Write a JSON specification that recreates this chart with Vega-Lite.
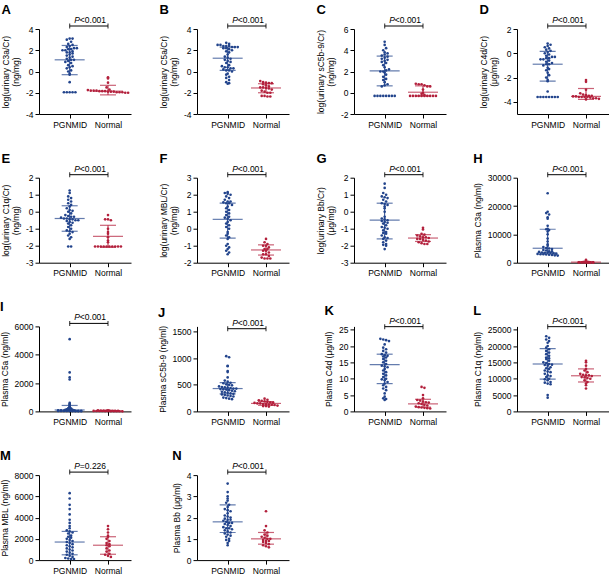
{
"$schema":"https://vega.github.io/schema/vega-lite/v6.json",
"padding":{"left":0,"top":4,"right":0,"bottom":0},
"columns":4,
"spacing":{"row":23.7,"column":27},
"datasets":{
"pts":[
{"p":"A","g":"P","v":-1.95},{"p":"A","g":"P","v":-1.95},{"p":"A","g":"P","v":-1.95},{"p":"A","g":"P","v":-1.95},{"p":"A","g":"P","v":-1.95},{"p":"A","g":"P","v":-1.0},{"p":"A","g":"P","v":-0.3},{"p":"A","g":"P","v":-0.2},{"p":"A","g":"P","v":0.0},{"p":"A","g":"P","v":0.1},{"p":"A","g":"P","v":0.3},{"p":"A","g":"P","v":0.4},{"p":"A","g":"P","v":0.5},{"p":"A","g":"P","v":0.6},{"p":"A","g":"P","v":0.8},{"p":"A","g":"P","v":0.9},{"p":"A","g":"P","v":1.0},{"p":"A","g":"P","v":1.1},{"p":"A","g":"P","v":1.1},{"p":"A","g":"P","v":1.2},{"p":"A","g":"P","v":1.3},{"p":"A","g":"P","v":1.4},{"p":"A","g":"P","v":1.5},{"p":"A","g":"P","v":1.6},{"p":"A","g":"P","v":1.7},{"p":"A","g":"P","v":1.8},{"p":"A","g":"P","v":1.8},{"p":"A","g":"P","v":1.9},{"p":"A","g":"P","v":2.0},{"p":"A","g":"P","v":2.0},{"p":"A","g":"P","v":2.1},{"p":"A","g":"P","v":2.1},{"p":"A","g":"P","v":2.2},{"p":"A","g":"P","v":2.2},{"p":"A","g":"P","v":2.3},{"p":"A","g":"P","v":2.4},{"p":"A","g":"P","v":2.5},{"p":"A","g":"P","v":2.6},{"p":"A","g":"P","v":2.8},{"p":"A","g":"P","v":3.0},{"p":"A","g":"P","v":3.1},{"p":"A","g":"P","v":3.1},
{"p":"A","g":"N","v":-0.55},{"p":"A","g":"N","v":-0.65},{"p":"A","g":"N","v":-1.05},{"p":"A","g":"N","v":-1.5},{"p":"A","g":"N","v":-1.7},{"p":"A","g":"N","v":-1.75},{"p":"A","g":"N","v":-1.8},{"p":"A","g":"N","v":-1.8},{"p":"A","g":"N","v":-1.8},{"p":"A","g":"N","v":-1.85},{"p":"A","g":"N","v":-1.85},{"p":"A","g":"N","v":-1.85},{"p":"A","g":"N","v":-1.9},{"p":"A","g":"N","v":-1.9},{"p":"A","g":"N","v":-1.9},{"p":"A","g":"N","v":-1.95},{"p":"A","g":"N","v":-1.95},{"p":"A","g":"N","v":-1.95},{"p":"A","g":"N","v":-2.0},{"p":"A","g":"N","v":-2.0},
{"p":"B","g":"P","v":2.7},{"p":"B","g":"P","v":2.6},{"p":"B","g":"P","v":2.5},{"p":"B","g":"P","v":2.5},{"p":"B","g":"P","v":2.4},{"p":"B","g":"P","v":2.4},{"p":"B","g":"P","v":2.4},{"p":"B","g":"P","v":2.3},{"p":"B","g":"P","v":2.3},{"p":"B","g":"P","v":2.3},{"p":"B","g":"P","v":2.2},{"p":"B","g":"P","v":2.2},{"p":"B","g":"P","v":2.1},{"p":"B","g":"P","v":2.0},{"p":"B","g":"P","v":1.9},{"p":"B","g":"P","v":1.8},{"p":"B","g":"P","v":1.6},{"p":"B","g":"P","v":1.4},{"p":"B","g":"P","v":1.3},{"p":"B","g":"P","v":1.2},{"p":"B","g":"P","v":1.1},{"p":"B","g":"P","v":1.0},{"p":"B","g":"P","v":0.9},{"p":"B","g":"P","v":0.8},{"p":"B","g":"P","v":0.6},{"p":"B","g":"P","v":0.5},{"p":"B","g":"P","v":0.4},{"p":"B","g":"P","v":0.4},{"p":"B","g":"P","v":0.3},{"p":"B","g":"P","v":0.3},{"p":"B","g":"P","v":0.2},{"p":"B","g":"P","v":0.1},{"p":"B","g":"P","v":0.1},{"p":"B","g":"P","v":0.0},{"p":"B","g":"P","v":-0.2},{"p":"B","g":"P","v":-0.3},{"p":"B","g":"P","v":-0.5},{"p":"B","g":"P","v":-0.6},{"p":"B","g":"P","v":-0.8},{"p":"B","g":"P","v":-1.0},{"p":"B","g":"P","v":-1.1},{"p":"B","g":"P","v":-1.15},
{"p":"B","g":"N","v":-0.9},{"p":"B","g":"N","v":-1.0},{"p":"B","g":"N","v":-1.05},{"p":"B","g":"N","v":-1.1},{"p":"B","g":"N","v":-1.1},{"p":"B","g":"N","v":-1.2},{"p":"B","g":"N","v":-1.3},{"p":"B","g":"N","v":-1.4},{"p":"B","g":"N","v":-1.5},{"p":"B","g":"N","v":-1.5},{"p":"B","g":"N","v":-1.55},{"p":"B","g":"N","v":-1.6},{"p":"B","g":"N","v":-1.7},{"p":"B","g":"N","v":-1.8},{"p":"B","g":"N","v":-1.9},{"p":"B","g":"N","v":-2.0},{"p":"B","g":"N","v":-2.0},{"p":"B","g":"N","v":-2.3},{"p":"B","g":"N","v":-2.3},{"p":"B","g":"N","v":-2.35},{"p":"B","g":"N","v":-2.35},
{"p":"C","g":"P","v":-0.3},{"p":"C","g":"P","v":-0.3},{"p":"C","g":"P","v":-0.3},{"p":"C","g":"P","v":-0.3},{"p":"C","g":"P","v":-0.3},{"p":"C","g":"P","v":-0.3},{"p":"C","g":"P","v":-0.3},{"p":"C","g":"P","v":-0.3},{"p":"C","g":"P","v":0.6},{"p":"C","g":"P","v":0.7},{"p":"C","g":"P","v":0.8},{"p":"C","g":"P","v":1.0},{"p":"C","g":"P","v":1.2},{"p":"C","g":"P","v":1.3},{"p":"C","g":"P","v":1.5},{"p":"C","g":"P","v":1.7},{"p":"C","g":"P","v":1.9},{"p":"C","g":"P","v":2.0},{"p":"C","g":"P","v":2.0},{"p":"C","g":"P","v":2.1},{"p":"C","g":"P","v":2.2},{"p":"C","g":"P","v":2.4},{"p":"C","g":"P","v":2.6},{"p":"C","g":"P","v":2.8},{"p":"C","g":"P","v":2.9},{"p":"C","g":"P","v":3.0},{"p":"C","g":"P","v":3.1},{"p":"C","g":"P","v":3.2},{"p":"C","g":"P","v":3.3},{"p":"C","g":"P","v":3.4},{"p":"C","g":"P","v":3.5},{"p":"C","g":"P","v":3.6},{"p":"C","g":"P","v":3.7},{"p":"C","g":"P","v":3.8},{"p":"C","g":"P","v":4.0},{"p":"C","g":"P","v":4.2},{"p":"C","g":"P","v":4.5},{"p":"C","g":"P","v":4.8},
{"p":"C","g":"N","v":0.85},{"p":"C","g":"N","v":0.8},{"p":"C","g":"N","v":0.8},{"p":"C","g":"N","v":0.7},{"p":"C","g":"N","v":0.6},{"p":"C","g":"N","v":0.6},{"p":"C","g":"N","v":0.3},{"p":"C","g":"N","v":0.0},{"p":"C","g":"N","v":-0.1},{"p":"C","g":"N","v":-0.2},{"p":"C","g":"N","v":-0.3},{"p":"C","g":"N","v":-0.3},{"p":"C","g":"N","v":-0.3},{"p":"C","g":"N","v":-0.3},{"p":"C","g":"N","v":-0.3},{"p":"C","g":"N","v":-0.3},{"p":"C","g":"N","v":-0.3},{"p":"C","g":"N","v":-0.3},{"p":"C","g":"N","v":-0.3},{"p":"C","g":"N","v":-0.3},
{"p":"D","g":"P","v":-3.6},{"p":"D","g":"P","v":-3.6},{"p":"D","g":"P","v":-3.6},{"p":"D","g":"P","v":-3.6},{"p":"D","g":"P","v":-3.6},{"p":"D","g":"P","v":-3.6},{"p":"D","g":"P","v":-3.6},{"p":"D","g":"P","v":-3.6},{"p":"D","g":"P","v":-3.15},{"p":"D","g":"P","v":-2.3},{"p":"D","g":"P","v":-2.2},{"p":"D","g":"P","v":-2.0},{"p":"D","g":"P","v":-1.8},{"p":"D","g":"P","v":-1.6},{"p":"D","g":"P","v":-1.4},{"p":"D","g":"P","v":-1.3},{"p":"D","g":"P","v":-1.2},{"p":"D","g":"P","v":-1.0},{"p":"D","g":"P","v":-0.9},{"p":"D","g":"P","v":-0.9},{"p":"D","g":"P","v":-0.8},{"p":"D","g":"P","v":-0.7},{"p":"D","g":"P","v":-0.6},{"p":"D","g":"P","v":-0.5},{"p":"D","g":"P","v":-0.5},{"p":"D","g":"P","v":-0.4},{"p":"D","g":"P","v":-0.4},{"p":"D","g":"P","v":-0.3},{"p":"D","g":"P","v":-0.3},{"p":"D","g":"P","v":-0.2},{"p":"D","g":"P","v":-0.1},{"p":"D","g":"P","v":0.0},{"p":"D","g":"P","v":0.1},{"p":"D","g":"P","v":0.2},{"p":"D","g":"P","v":0.3},{"p":"D","g":"P","v":0.4},{"p":"D","g":"P","v":0.5},{"p":"D","g":"P","v":0.6},{"p":"D","g":"P","v":0.7},{"p":"D","g":"P","v":0.8},
{"p":"D","g":"N","v":-2.2},{"p":"D","g":"N","v":-2.35},{"p":"D","g":"N","v":-3.0},{"p":"D","g":"N","v":-3.3},{"p":"D","g":"N","v":-3.4},{"p":"D","g":"N","v":-3.45},{"p":"D","g":"N","v":-3.5},{"p":"D","g":"N","v":-3.5},{"p":"D","g":"N","v":-3.55},{"p":"D","g":"N","v":-3.55},{"p":"D","g":"N","v":-3.6},{"p":"D","g":"N","v":-3.6},{"p":"D","g":"N","v":-3.6},{"p":"D","g":"N","v":-3.6},{"p":"D","g":"N","v":-3.65},{"p":"D","g":"N","v":-3.7},{"p":"D","g":"N","v":-3.7},{"p":"D","g":"N","v":-3.75},{"p":"D","g":"N","v":-3.8},
{"p":"E","g":"P","v":1.25},{"p":"E","g":"P","v":1.1},{"p":"E","g":"P","v":0.9},{"p":"E","g":"P","v":0.8},{"p":"E","g":"P","v":0.7},{"p":"E","g":"P","v":0.6},{"p":"E","g":"P","v":0.5},{"p":"E","g":"P","v":0.4},{"p":"E","g":"P","v":0.3},{"p":"E","g":"P","v":0.2},{"p":"E","g":"P","v":0.1},{"p":"E","g":"P","v":0.05},{"p":"E","g":"P","v":0.0},{"p":"E","g":"P","v":-0.1},{"p":"E","g":"P","v":-0.2},{"p":"E","g":"P","v":-0.25},{"p":"E","g":"P","v":-0.3},{"p":"E","g":"P","v":-0.3},{"p":"E","g":"P","v":-0.35},{"p":"E","g":"P","v":-0.4},{"p":"E","g":"P","v":-0.4},{"p":"E","g":"P","v":-0.45},{"p":"E","g":"P","v":-0.45},{"p":"E","g":"P","v":-0.5},{"p":"E","g":"P","v":-0.5},{"p":"E","g":"P","v":-0.55},{"p":"E","g":"P","v":-0.6},{"p":"E","g":"P","v":-0.65},{"p":"E","g":"P","v":-0.7},{"p":"E","g":"P","v":-0.8},{"p":"E","g":"P","v":-0.9},{"p":"E","g":"P","v":-1.0},{"p":"E","g":"P","v":-1.1},{"p":"E","g":"P","v":-1.15},{"p":"E","g":"P","v":-1.2},{"p":"E","g":"P","v":-1.3},{"p":"E","g":"P","v":-1.4},{"p":"E","g":"P","v":-1.5},{"p":"E","g":"P","v":-1.6},{"p":"E","g":"P","v":-2.05},{"p":"E","g":"P","v":-2.05},
{"p":"E","g":"N","v":-0.2},{"p":"E","g":"N","v":-0.45},{"p":"E","g":"N","v":-0.45},{"p":"E","g":"N","v":-0.5},{"p":"E","g":"N","v":-1.0},{"p":"E","g":"N","v":-1.2},{"p":"E","g":"N","v":-1.3},{"p":"E","g":"N","v":-1.5},{"p":"E","g":"N","v":-1.7},{"p":"E","g":"N","v":-1.8},{"p":"E","g":"N","v":-2.05},{"p":"E","g":"N","v":-2.05},{"p":"E","g":"N","v":-2.05},{"p":"E","g":"N","v":-2.05},{"p":"E","g":"N","v":-2.05},{"p":"E","g":"N","v":-2.05},{"p":"E","g":"N","v":-2.05},{"p":"E","g":"N","v":-2.05},{"p":"E","g":"N","v":-2.05},{"p":"E","g":"N","v":-2.05},
{"p":"F","g":"P","v":2.15},{"p":"F","g":"P","v":2.1},{"p":"F","g":"P","v":2.05},{"p":"F","g":"P","v":2.0},{"p":"F","g":"P","v":1.9},{"p":"F","g":"P","v":1.8},{"p":"F","g":"P","v":1.7},{"p":"F","g":"P","v":1.6},{"p":"F","g":"P","v":1.6},{"p":"F","g":"P","v":1.55},{"p":"F","g":"P","v":1.5},{"p":"F","g":"P","v":1.5},{"p":"F","g":"P","v":1.4},{"p":"F","g":"P","v":1.3},{"p":"F","g":"P","v":1.2},{"p":"F","g":"P","v":1.1},{"p":"F","g":"P","v":1.0},{"p":"F","g":"P","v":0.9},{"p":"F","g":"P","v":0.8},{"p":"F","g":"P","v":0.7},{"p":"F","g":"P","v":0.65},{"p":"F","g":"P","v":0.6},{"p":"F","g":"P","v":0.5},{"p":"F","g":"P","v":0.4},{"p":"F","g":"P","v":0.3},{"p":"F","g":"P","v":0.2},{"p":"F","g":"P","v":0.1},{"p":"F","g":"P","v":0.0},{"p":"F","g":"P","v":-0.2},{"p":"F","g":"P","v":-0.3},{"p":"F","g":"P","v":-0.4},{"p":"F","g":"P","v":-0.5},{"p":"F","g":"P","v":-0.6},{"p":"F","g":"P","v":-0.9},{"p":"F","g":"P","v":-1.0},{"p":"F","g":"P","v":-1.1},{"p":"F","g":"P","v":-1.2},{"p":"F","g":"P","v":-1.3},{"p":"F","g":"P","v":-1.4},{"p":"F","g":"P","v":-1.5},
{"p":"F","g":"N","v":-0.6},{"p":"F","g":"N","v":-0.8},{"p":"F","g":"N","v":-0.9},{"p":"F","g":"N","v":-1.0},{"p":"F","g":"N","v":-1.0},{"p":"F","g":"N","v":-1.1},{"p":"F","g":"N","v":-1.2},{"p":"F","g":"N","v":-1.2},{"p":"F","g":"N","v":-1.3},{"p":"F","g":"N","v":-1.3},{"p":"F","g":"N","v":-1.4},{"p":"F","g":"N","v":-1.5},{"p":"F","g":"N","v":-1.5},{"p":"F","g":"N","v":-1.6},{"p":"F","g":"N","v":-1.7},{"p":"F","g":"N","v":-1.75},{"p":"F","g":"N","v":-1.75},{"p":"F","g":"N","v":-1.75},
{"p":"G","g":"P","v":1.65},{"p":"G","g":"P","v":1.4},{"p":"G","g":"P","v":1.1},{"p":"G","g":"P","v":1.0},{"p":"G","g":"P","v":0.9},{"p":"G","g":"P","v":0.85},{"p":"G","g":"P","v":0.8},{"p":"G","g":"P","v":0.7},{"p":"G","g":"P","v":0.6},{"p":"G","g":"P","v":0.5},{"p":"G","g":"P","v":0.45},{"p":"G","g":"P","v":0.4},{"p":"G","g":"P","v":0.3},{"p":"G","g":"P","v":0.2},{"p":"G","g":"P","v":0.0},{"p":"G","g":"P","v":-0.3},{"p":"G","g":"P","v":-0.4},{"p":"G","g":"P","v":-0.45},{"p":"G","g":"P","v":-0.5},{"p":"G","g":"P","v":-0.55},{"p":"G","g":"P","v":-0.6},{"p":"G","g":"P","v":-0.65},{"p":"G","g":"P","v":-0.7},{"p":"G","g":"P","v":-0.8},{"p":"G","g":"P","v":-0.9},{"p":"G","g":"P","v":-0.95},{"p":"G","g":"P","v":-1.0},{"p":"G","g":"P","v":-1.1},{"p":"G","g":"P","v":-1.2},{"p":"G","g":"P","v":-1.25},{"p":"G","g":"P","v":-1.3},{"p":"G","g":"P","v":-1.4},{"p":"G","g":"P","v":-1.5},{"p":"G","g":"P","v":-1.55},{"p":"G","g":"P","v":-1.6},{"p":"G","g":"P","v":-1.7},{"p":"G","g":"P","v":-1.8},{"p":"G","g":"P","v":-1.9},{"p":"G","g":"P","v":-1.95},{"p":"G","g":"P","v":-2.0},{"p":"G","g":"P","v":-2.2},
{"p":"G","g":"N","v":-0.95},{"p":"G","g":"N","v":-1.05},{"p":"G","g":"N","v":-1.3},{"p":"G","g":"N","v":-1.35},{"p":"G","g":"N","v":-1.4},{"p":"G","g":"N","v":-1.45},{"p":"G","g":"N","v":-1.5},{"p":"G","g":"N","v":-1.5},{"p":"G","g":"N","v":-1.55},{"p":"G","g":"N","v":-1.6},{"p":"G","g":"N","v":-1.6},{"p":"G","g":"N","v":-1.65},{"p":"G","g":"N","v":-1.7},{"p":"G","g":"N","v":-1.75},{"p":"G","g":"N","v":-1.8},{"p":"G","g":"N","v":-1.85},{"p":"G","g":"N","v":-1.9},{"p":"G","g":"N","v":-1.9},
{"p":"H","g":"P","v":24500},{"p":"H","g":"P","v":18000},{"p":"H","g":"P","v":17500},{"p":"H","g":"P","v":17000},{"p":"H","g":"P","v":16000},{"p":"H","g":"P","v":15500},{"p":"H","g":"P","v":13000},{"p":"H","g":"P","v":12000},{"p":"H","g":"P","v":11800},{"p":"H","g":"P","v":11500},{"p":"H","g":"P","v":11000},{"p":"H","g":"P","v":10000},{"p":"H","g":"P","v":8500},{"p":"H","g":"P","v":7500},{"p":"H","g":"P","v":6500},{"p":"H","g":"P","v":6000},{"p":"H","g":"P","v":5500},{"p":"H","g":"P","v":5200},{"p":"H","g":"P","v":5000},{"p":"H","g":"P","v":4800},{"p":"H","g":"P","v":4500},{"p":"H","g":"P","v":4300},{"p":"H","g":"P","v":4000},{"p":"H","g":"P","v":4000},{"p":"H","g":"P","v":3800},{"p":"H","g":"P","v":3600},{"p":"H","g":"P","v":3500},{"p":"H","g":"P","v":3500},{"p":"H","g":"P","v":3400},{"p":"H","g":"P","v":3300},{"p":"H","g":"P","v":3200},{"p":"H","g":"P","v":3100},{"p":"H","g":"P","v":3000},{"p":"H","g":"P","v":3000},{"p":"H","g":"P","v":2900},{"p":"H","g":"P","v":2800},{"p":"H","g":"P","v":2700},{"p":"H","g":"P","v":2600},{"p":"H","g":"P","v":2500},
{"p":"H","g":"N","v":1000},{"p":"H","g":"N","v":500},{"p":"H","g":"N","v":400},{"p":"H","g":"N","v":300},{"p":"H","g":"N","v":300},{"p":"H","g":"N","v":250},{"p":"H","g":"N","v":200},{"p":"H","g":"N","v":200},{"p":"H","g":"N","v":150},{"p":"H","g":"N","v":150},{"p":"H","g":"N","v":120},{"p":"H","g":"N","v":100},{"p":"H","g":"N","v":100},{"p":"H","g":"N","v":100},{"p":"H","g":"N","v":90},{"p":"H","g":"N","v":80},{"p":"H","g":"N","v":60},{"p":"H","g":"N","v":50},{"p":"H","g":"N","v":50},{"p":"H","g":"N","v":30},
{"p":"I","g":"P","v":5100},{"p":"I","g":"P","v":2750},{"p":"I","g":"P","v":2400},{"p":"I","g":"P","v":2250},{"p":"I","g":"P","v":600},{"p":"I","g":"P","v":520},{"p":"I","g":"P","v":480},{"p":"I","g":"P","v":400},{"p":"I","g":"P","v":350},{"p":"I","g":"P","v":300},{"p":"I","g":"P","v":250},{"p":"I","g":"P","v":220},{"p":"I","g":"P","v":200},{"p":"I","g":"P","v":180},{"p":"I","g":"P","v":170},{"p":"I","g":"P","v":150},{"p":"I","g":"P","v":130},{"p":"I","g":"P","v":120},{"p":"I","g":"P","v":110},{"p":"I","g":"P","v":100},{"p":"I","g":"P","v":90},{"p":"I","g":"P","v":80},{"p":"I","g":"P","v":75},{"p":"I","g":"P","v":70},{"p":"I","g":"P","v":65},{"p":"I","g":"P","v":60},{"p":"I","g":"P","v":50},{"p":"I","g":"P","v":50},{"p":"I","g":"P","v":45},{"p":"I","g":"P","v":40},{"p":"I","g":"P","v":40},{"p":"I","g":"P","v":35},{"p":"I","g":"P","v":30},{"p":"I","g":"P","v":30},{"p":"I","g":"P","v":25},{"p":"I","g":"P","v":20},{"p":"I","g":"P","v":20},{"p":"I","g":"P","v":15},{"p":"I","g":"P","v":10},{"p":"I","g":"P","v":10},
{"p":"I","g":"N","v":80},{"p":"I","g":"N","v":70},{"p":"I","g":"N","v":60},{"p":"I","g":"N","v":60},{"p":"I","g":"N","v":50},{"p":"I","g":"N","v":50},{"p":"I","g":"N","v":45},{"p":"I","g":"N","v":40},{"p":"I","g":"N","v":40},{"p":"I","g":"N","v":35},{"p":"I","g":"N","v":30},{"p":"I","g":"N","v":30},{"p":"I","g":"N","v":25},{"p":"I","g":"N","v":20},{"p":"I","g":"N","v":20},{"p":"I","g":"N","v":15},{"p":"I","g":"N","v":15},{"p":"I","g":"N","v":10},{"p":"I","g":"N","v":10},{"p":"I","g":"N","v":5},
{"p":"J","g":"P","v":1040},{"p":"J","g":"P","v":1020},{"p":"J","g":"P","v":860},{"p":"J","g":"P","v":850},{"p":"J","g":"P","v":760},{"p":"J","g":"P","v":740},{"p":"J","g":"P","v":640},{"p":"J","g":"P","v":580},{"p":"J","g":"P","v":560},{"p":"J","g":"P","v":540},{"p":"J","g":"P","v":530},{"p":"J","g":"P","v":510},{"p":"J","g":"P","v":500},{"p":"J","g":"P","v":490},{"p":"J","g":"P","v":470},{"p":"J","g":"P","v":460},{"p":"J","g":"P","v":455},{"p":"J","g":"P","v":450},{"p":"J","g":"P","v":440},{"p":"J","g":"P","v":430},{"p":"J","g":"P","v":430},{"p":"J","g":"P","v":420},{"p":"J","g":"P","v":415},{"p":"J","g":"P","v":410},{"p":"J","g":"P","v":400},{"p":"J","g":"P","v":390},{"p":"J","g":"P","v":380},{"p":"J","g":"P","v":370},{"p":"J","g":"P","v":360},{"p":"J","g":"P","v":350},{"p":"J","g":"P","v":340},{"p":"J","g":"P","v":330},{"p":"J","g":"P","v":320},{"p":"J","g":"P","v":310},{"p":"J","g":"P","v":300},{"p":"J","g":"P","v":290},{"p":"J","g":"P","v":280},{"p":"J","g":"P","v":260},{"p":"J","g":"P","v":250},{"p":"J","g":"P","v":240},{"p":"J","g":"P","v":230},
{"p":"J","g":"N","v":240},{"p":"J","g":"N","v":220},{"p":"J","g":"N","v":210},{"p":"J","g":"N","v":200},{"p":"J","g":"N","v":190},{"p":"J","g":"N","v":180},{"p":"J","g":"N","v":170},{"p":"J","g":"N","v":165},{"p":"J","g":"N","v":160},{"p":"J","g":"N","v":150},{"p":"J","g":"N","v":150},{"p":"J","g":"N","v":140},{"p":"J","g":"N","v":135},{"p":"J","g":"N","v":130},{"p":"J","g":"N","v":125},{"p":"J","g":"N","v":120},{"p":"J","g":"N","v":110},{"p":"J","g":"N","v":100},{"p":"J","g":"N","v":100},{"p":"J","g":"N","v":90},
{"p":"K","g":"P","v":22.2},{"p":"K","g":"P","v":22},{"p":"K","g":"P","v":21.8},{"p":"K","g":"P","v":21.5},{"p":"K","g":"P","v":20.5},{"p":"K","g":"P","v":19.5},{"p":"K","g":"P","v":19},{"p":"K","g":"P","v":18.5},{"p":"K","g":"P","v":18},{"p":"K","g":"P","v":17.5},{"p":"K","g":"P","v":17.2},{"p":"K","g":"P","v":17},{"p":"K","g":"P","v":16.8},{"p":"K","g":"P","v":16.5},{"p":"K","g":"P","v":16},{"p":"K","g":"P","v":15.5},{"p":"K","g":"P","v":15},{"p":"K","g":"P","v":14.5},{"p":"K","g":"P","v":14},{"p":"K","g":"P","v":13.8},{"p":"K","g":"P","v":13.5},{"p":"K","g":"P","v":13},{"p":"K","g":"P","v":12.5},{"p":"K","g":"P","v":12},{"p":"K","g":"P","v":11.5},{"p":"K","g":"P","v":11},{"p":"K","g":"P","v":10.5},{"p":"K","g":"P","v":10},{"p":"K","g":"P","v":9.8},{"p":"K","g":"P","v":9.5},{"p":"K","g":"P","v":9},{"p":"K","g":"P","v":8.5},{"p":"K","g":"P","v":8},{"p":"K","g":"P","v":7.5},{"p":"K","g":"P","v":7},{"p":"K","g":"P","v":6.5},{"p":"K","g":"P","v":5.5},{"p":"K","g":"P","v":4.5},{"p":"K","g":"P","v":4},{"p":"K","g":"P","v":3.8},{"p":"K","g":"P","v":3.5},
{"p":"K","g":"N","v":7.5},{"p":"K","g":"N","v":7.2},{"p":"K","g":"N","v":5},{"p":"K","g":"N","v":4},{"p":"K","g":"N","v":3.5},{"p":"K","g":"N","v":3.3},{"p":"K","g":"N","v":3},{"p":"K","g":"N","v":2.8},{"p":"K","g":"N","v":2.7},{"p":"K","g":"N","v":2.5},{"p":"K","g":"N","v":2.3},{"p":"K","g":"N","v":2},{"p":"K","g":"N","v":1.8},{"p":"K","g":"N","v":1.5},{"p":"K","g":"N","v":1.3},{"p":"K","g":"N","v":1.2},{"p":"K","g":"N","v":1.1},{"p":"K","g":"N","v":1},{"p":"K","g":"N","v":0.9},
{"p":"L","g":"P","v":23000},{"p":"L","g":"P","v":22500},{"p":"L","g":"P","v":22000},{"p":"L","g":"P","v":21500},{"p":"L","g":"P","v":21000},{"p":"L","g":"P","v":20000},{"p":"L","g":"P","v":19500},{"p":"L","g":"P","v":19000},{"p":"L","g":"P","v":18500},{"p":"L","g":"P","v":18000},{"p":"L","g":"P","v":17500},{"p":"L","g":"P","v":17000},{"p":"L","g":"P","v":16500},{"p":"L","g":"P","v":16200},{"p":"L","g":"P","v":16000},{"p":"L","g":"P","v":15500},{"p":"L","g":"P","v":15000},{"p":"L","g":"P","v":14800},{"p":"L","g":"P","v":14500},{"p":"L","g":"P","v":14300},{"p":"L","g":"P","v":14200},{"p":"L","g":"P","v":14000},{"p":"L","g":"P","v":13500},{"p":"L","g":"P","v":13200},{"p":"L","g":"P","v":13000},{"p":"L","g":"P","v":12500},{"p":"L","g":"P","v":12200},{"p":"L","g":"P","v":12000},{"p":"L","g":"P","v":11500},{"p":"L","g":"P","v":11000},{"p":"L","g":"P","v":10800},{"p":"L","g":"P","v":10500},{"p":"L","g":"P","v":10000},{"p":"L","g":"P","v":9800},{"p":"L","g":"P","v":9500},{"p":"L","g":"P","v":9000},{"p":"L","g":"P","v":8800},{"p":"L","g":"P","v":8500},{"p":"L","g":"P","v":8300},{"p":"L","g":"P","v":5000},{"p":"L","g":"P","v":4200},
{"p":"L","g":"N","v":15500},{"p":"L","g":"N","v":15000},{"p":"L","g":"N","v":14000},{"p":"L","g":"N","v":13000},{"p":"L","g":"N","v":12500},{"p":"L","g":"N","v":12000},{"p":"L","g":"N","v":11500},{"p":"L","g":"N","v":11200},{"p":"L","g":"N","v":11000},{"p":"L","g":"N","v":11000},{"p":"L","g":"N","v":10800},{"p":"L","g":"N","v":10500},{"p":"L","g":"N","v":10400},{"p":"L","g":"N","v":10200},{"p":"L","g":"N","v":10000},{"p":"L","g":"N","v":9500},{"p":"L","g":"N","v":9000},{"p":"L","g":"N","v":8500},{"p":"L","g":"N","v":8000},{"p":"L","g":"N","v":7000},
{"p":"M","g":"P","v":6300},{"p":"M","g":"P","v":5800},{"p":"M","g":"P","v":5200},{"p":"M","g":"P","v":4800},{"p":"M","g":"P","v":4300},{"p":"M","g":"P","v":3800},{"p":"M","g":"P","v":3500},{"p":"M","g":"P","v":3200},{"p":"M","g":"P","v":3000},{"p":"M","g":"P","v":2800},{"p":"M","g":"P","v":2700},{"p":"M","g":"P","v":2600},{"p":"M","g":"P","v":2500},{"p":"M","g":"P","v":2300},{"p":"M","g":"P","v":2200},{"p":"M","g":"P","v":2100},{"p":"M","g":"P","v":2000},{"p":"M","g":"P","v":1900},{"p":"M","g":"P","v":1800},{"p":"M","g":"P","v":1700},{"p":"M","g":"P","v":1600},{"p":"M","g":"P","v":1500},{"p":"M","g":"P","v":1400},{"p":"M","g":"P","v":1300},{"p":"M","g":"P","v":1200},{"p":"M","g":"P","v":1100},{"p":"M","g":"P","v":1000},{"p":"M","g":"P","v":900},{"p":"M","g":"P","v":800},{"p":"M","g":"P","v":700},{"p":"M","g":"P","v":600},{"p":"M","g":"P","v":500},{"p":"M","g":"P","v":400},{"p":"M","g":"P","v":300},{"p":"M","g":"P","v":200},{"p":"M","g":"P","v":150},{"p":"M","g":"P","v":100},{"p":"M","g":"P","v":100},
{"p":"M","g":"N","v":3200},{"p":"M","g":"N","v":2900},{"p":"M","g":"N","v":2600},{"p":"M","g":"N","v":2300},{"p":"M","g":"N","v":2200},{"p":"M","g":"N","v":2000},{"p":"M","g":"N","v":1800},{"p":"M","g":"N","v":1600},{"p":"M","g":"N","v":1500},{"p":"M","g":"N","v":1400},{"p":"M","g":"N","v":1300},{"p":"M","g":"N","v":1100},{"p":"M","g":"N","v":900},{"p":"M","g":"N","v":800},{"p":"M","g":"N","v":600},{"p":"M","g":"N","v":500},{"p":"M","g":"N","v":400},{"p":"M","g":"N","v":300},
{"p":"N","g":"P","v":3.6},{"p":"N","g":"P","v":3.2},{"p":"N","g":"P","v":3.0},{"p":"N","g":"P","v":2.9},{"p":"N","g":"P","v":2.8},{"p":"N","g":"P","v":2.7},{"p":"N","g":"P","v":2.6},{"p":"N","g":"P","v":2.5},{"p":"N","g":"P","v":2.4},{"p":"N","g":"P","v":2.35},{"p":"N","g":"P","v":2.3},{"p":"N","g":"P","v":2.2},{"p":"N","g":"P","v":2.1},{"p":"N","g":"P","v":2.05},{"p":"N","g":"P","v":2.0},{"p":"N","g":"P","v":1.95},{"p":"N","g":"P","v":1.9},{"p":"N","g":"P","v":1.9},{"p":"N","g":"P","v":1.85},{"p":"N","g":"P","v":1.8},{"p":"N","g":"P","v":1.75},{"p":"N","g":"P","v":1.75},{"p":"N","g":"P","v":1.7},{"p":"N","g":"P","v":1.65},{"p":"N","g":"P","v":1.6},{"p":"N","g":"P","v":1.55},{"p":"N","g":"P","v":1.5},{"p":"N","g":"P","v":1.5},{"p":"N","g":"P","v":1.45},{"p":"N","g":"P","v":1.4},{"p":"N","g":"P","v":1.35},{"p":"N","g":"P","v":1.3},{"p":"N","g":"P","v":1.25},{"p":"N","g":"P","v":1.2},{"p":"N","g":"P","v":1.15},{"p":"N","g":"P","v":1.1},{"p":"N","g":"P","v":1.0},{"p":"N","g":"P","v":0.95},{"p":"N","g":"P","v":0.9},{"p":"N","g":"P","v":0.8},{"p":"N","g":"P","v":0.7},
{"p":"N","g":"N","v":2.3},{"p":"N","g":"N","v":1.6},{"p":"N","g":"N","v":1.4},{"p":"N","g":"N","v":1.3},{"p":"N","g":"N","v":1.2},{"p":"N","g":"N","v":1.15},{"p":"N","g":"N","v":1.1},{"p":"N","g":"N","v":1.05},{"p":"N","g":"N","v":1.0},{"p":"N","g":"N","v":1.0},{"p":"N","g":"N","v":0.95},{"p":"N","g":"N","v":0.9},{"p":"N","g":"N","v":0.9},{"p":"N","g":"N","v":0.85},{"p":"N","g":"N","v":0.8},{"p":"N","g":"N","v":0.75},{"p":"N","g":"N","v":0.7},{"p":"N","g":"N","v":0.65},{"p":"N","g":"N","v":0.6}
],
"st":[
{"p":"A","g":"P","med":1.1,"q1":-0.3,"q3":2.45},{"p":"A","g":"N","med":-1.85,"q1":-2.2,"q3":-1.3},
{"p":"B","g":"P","med":1.25,"q1":0.1,"q3":2.3},{"p":"B","g":"N","med":-1.55,"q1":-2.0,"q3":-1.15},
{"p":"C","g":"P","med":2.05,"q1":0.65,"q3":3.45},{"p":"C","g":"N","med":0.05,"q1":-0.3,"q3":0.65},
{"p":"D","g":"P","med":-0.9,"q1":-2.3,"q3":0.15},{"p":"D","g":"N","med":-3.55,"q1":-3.8,"q3":-2.9},
{"p":"E","g":"P","med":-0.4,"q1":-1.15,"q3":0.35},{"p":"E","g":"N","med":-1.45,"q1":-2.1,"q3":-0.8},
{"p":"F","g":"P","med":0.55,"q1":-0.55,"q3":1.5},{"p":"F","g":"N","med":-1.25,"q1":-1.55,"q3":-0.95},
{"p":"G","g":"P","med":-0.5,"q1":-1.6,"q3":0.5},{"p":"G","g":"N","med":-1.55,"q1":-1.75,"q3":-1.35},
{"p":"H","g":"P","med":5100,"q1":3500,"q3":11800},{"p":"H","g":"N","med":200,"q1":100,"q3":400},
{"p":"I","g":"P","med":100,"q1":30,"q3":420},{"p":"I","g":"N","med":33,"q1":15,"q3":50},
{"p":"J","g":"P","med":430,"q1":330,"q3":540},{"p":"J","g":"N","med":150,"q1":115,"q3":185},
{"p":"K","g":"P","med":14.3,"q1":8.5,"q3":17.5},{"p":"K","g":"N","med":2.3,"q1":1.3,"q3":3.7},
{"p":"L","g":"P","med":14500,"q1":9900,"q3":19200},{"p":"L","g":"N","med":10900,"q1":9000,"q3":13000},
{"p":"M","g":"P","med":1700,"q1":500,"q3":2700},{"p":"M","g":"N","med":1400,"q1":550,"q3":2200},
{"p":"N","g":"P","med":1.8,"q1":1.3,"q3":2.6},{"p":"N","g":"N","med":1.0,"q1":0.75,"q3":1.3}
]
},
"concat":[
{"title":"A","width":92,"height":85,"layer":[
{"data":{"name":"pts"},"transform":[{"filter":"datum.p=='A'"},{"calculate":"floor((datum.v+4)*3.5)","as":"b"},{"window":[{"op":"row_number","as":"r"}],"groupby":["g","b"]},{"joinaggregate":[{"op":"count","as":"n"}],"groupby":["g","b"]},{"calculate":"(datum.g=='P'?0:1)+(datum.r-(datum.n+1)/2)*0.075","as":"x"}],"mark":"circle","encoding":{"x":{"field":"x","type":"quantitative","scale":{"domain":[-0.66,1.54]},"axis":{"values":[0,1],"labelExpr":"datum.value==0?'PGNMID':'Normal'","title":null}},"y":{"field":"v","type":"quantitative","scale":{"domain":[-4,4]},"axis":{"values":[-4,-2,0,2,4],"tickCount":20,"format":"d","title":["log(urinary C3a/Cr)","(ng/mg)"]}},"color":{"field":"g","legend":null}}},
{"data":{"name":"st"},"transform":[{"filter":"datum.p=='A'"},{"calculate":"datum.g=='P'?0:1","as":"x"}],"mark":"rule","encoding":{"x":{"field":"x","type":"quantitative"},"y":{"field":"q1","type":"quantitative"},"y2":{"field":"q3"},"color":{"field":"g","legend":null}}},
{"data":{"name":"st"},"transform":[{"filter":"datum.p=='A'"},{"calculate":"datum.g=='P'?0:1","as":"x"}],"mark":{"type":"tick","orient":"horizontal","size":30},"encoding":{"x":{"field":"x","type":"quantitative"},"y":{"field":"med","type":"quantitative"},"color":{"field":"g","legend":null}}},
{"data":{"name":"st"},"transform":[{"filter":"datum.p=='A'"},{"calculate":"datum.g=='P'?0:1","as":"x"},{"fold":["q1","q3"]}],"mark":{"type":"tick","orient":"horizontal","size":16},"encoding":{"x":{"field":"x","type":"quantitative"},"y":{"field":"value","type":"quantitative"},"color":{"field":"g","legend":null}}},
{"data":{"values":[{}]},"mark":{"type":"rule","yOffset":-3},"encoding":{"x":{"datum":0},"x2":{"datum":1},"y":{"datum":4}}},
{"data":{"values":[{}]},"mark":{"type":"tick","orient":"vertical","size":5,"yOffset":-3},"encoding":{"x":{"datum":0},"y":{"datum":4}}},
{"data":{"values":[{}]},"mark":{"type":"tick","orient":"vertical","size":5,"yOffset":-3},"encoding":{"x":{"datum":1},"y":{"datum":4}}},
{"data":{"values":[{}]},"mark":{"type":"text","align":"right","baseline":"alphabetic","dx":-9,"dy":-6,"fontStyle":"italic"},"encoding":{"x":{"datum":0.5},"y":{"datum":4},"text":{"value":"P"}}},
{"data":{"values":[{}]},"mark":{"type":"text","align":"left","baseline":"alphabetic","dx":-9,"dy":-6},"encoding":{"x":{"datum":0.5},"y":{"datum":4},"text":{"value":"<0.001"}}}
]},
{"title":"B","width":92,"height":85,"layer":[
{"data":{"name":"pts"},"transform":[{"filter":"datum.p=='B'"},{"calculate":"floor((datum.v+4)*3.5)","as":"b"},{"window":[{"op":"row_number","as":"r"}],"groupby":["g","b"]},{"joinaggregate":[{"op":"count","as":"n"}],"groupby":["g","b"]},{"calculate":"(datum.g=='P'?0:1)+(datum.r-(datum.n+1)/2)*0.075","as":"x"}],"mark":"circle","encoding":{"x":{"field":"x","type":"quantitative","scale":{"domain":[-0.66,1.54]},"axis":{"values":[0,1],"labelExpr":"datum.value==0?'PGNMID':'Normal'","title":null}},"y":{"field":"v","type":"quantitative","scale":{"domain":[-4,4]},"axis":{"values":[-4,-2,0,2,4],"tickCount":20,"format":"d","title":["log(urinary C5a/Cr)","(ng/mg)"]}},"color":{"field":"g","legend":null}}},
{"data":{"name":"st"},"transform":[{"filter":"datum.p=='B'"},{"calculate":"datum.g=='P'?0:1","as":"x"}],"mark":"rule","encoding":{"x":{"field":"x","type":"quantitative"},"y":{"field":"q1","type":"quantitative"},"y2":{"field":"q3"},"color":{"field":"g","legend":null}}},
{"data":{"name":"st"},"transform":[{"filter":"datum.p=='B'"},{"calculate":"datum.g=='P'?0:1","as":"x"}],"mark":{"type":"tick","orient":"horizontal","size":30},"encoding":{"x":{"field":"x","type":"quantitative"},"y":{"field":"med","type":"quantitative"},"color":{"field":"g","legend":null}}},
{"data":{"name":"st"},"transform":[{"filter":"datum.p=='B'"},{"calculate":"datum.g=='P'?0:1","as":"x"},{"fold":["q1","q3"]}],"mark":{"type":"tick","orient":"horizontal","size":16},"encoding":{"x":{"field":"x","type":"quantitative"},"y":{"field":"value","type":"quantitative"},"color":{"field":"g","legend":null}}},
{"data":{"values":[{}]},"mark":{"type":"rule","yOffset":-3},"encoding":{"x":{"datum":0},"x2":{"datum":1},"y":{"datum":4}}},
{"data":{"values":[{}]},"mark":{"type":"tick","orient":"vertical","size":5,"yOffset":-3},"encoding":{"x":{"datum":0},"y":{"datum":4}}},
{"data":{"values":[{}]},"mark":{"type":"tick","orient":"vertical","size":5,"yOffset":-3},"encoding":{"x":{"datum":1},"y":{"datum":4}}},
{"data":{"values":[{}]},"mark":{"type":"text","align":"right","baseline":"alphabetic","dx":-9,"dy":-6,"fontStyle":"italic"},"encoding":{"x":{"datum":0.5},"y":{"datum":4},"text":{"value":"P"}}},
{"data":{"values":[{}]},"mark":{"type":"text","align":"left","baseline":"alphabetic","dx":-9,"dy":-6},"encoding":{"x":{"datum":0.5},"y":{"datum":4},"text":{"value":"<0.001"}}}
]},
{"title":"C","width":92,"height":85,"layer":[
{"data":{"name":"pts"},"transform":[{"filter":"datum.p=='C'"},{"calculate":"floor((datum.v+2)*3.5)","as":"b"},{"window":[{"op":"row_number","as":"r"}],"groupby":["g","b"]},{"joinaggregate":[{"op":"count","as":"n"}],"groupby":["g","b"]},{"calculate":"(datum.g=='P'?0:1)+(datum.r-(datum.n+1)/2)*0.075","as":"x"}],"mark":"circle","encoding":{"x":{"field":"x","type":"quantitative","scale":{"domain":[-0.66,1.54]},"axis":{"values":[0,1],"labelExpr":"datum.value==0?'PGNMID':'Normal'","title":null}},"y":{"field":"v","type":"quantitative","scale":{"domain":[-2,6]},"axis":{"values":[-2,0,2,4,6],"tickCount":20,"format":"d","title":["log(urinary sC5b-9/Cr)","(ng/mg)"]}},"color":{"field":"g","legend":null}}},
{"data":{"name":"st"},"transform":[{"filter":"datum.p=='C'"},{"calculate":"datum.g=='P'?0:1","as":"x"}],"mark":"rule","encoding":{"x":{"field":"x","type":"quantitative"},"y":{"field":"q1","type":"quantitative"},"y2":{"field":"q3"},"color":{"field":"g","legend":null}}},
{"data":{"name":"st"},"transform":[{"filter":"datum.p=='C'"},{"calculate":"datum.g=='P'?0:1","as":"x"}],"mark":{"type":"tick","orient":"horizontal","size":30},"encoding":{"x":{"field":"x","type":"quantitative"},"y":{"field":"med","type":"quantitative"},"color":{"field":"g","legend":null}}},
{"data":{"name":"st"},"transform":[{"filter":"datum.p=='C'"},{"calculate":"datum.g=='P'?0:1","as":"x"},{"fold":["q1","q3"]}],"mark":{"type":"tick","orient":"horizontal","size":16},"encoding":{"x":{"field":"x","type":"quantitative"},"y":{"field":"value","type":"quantitative"},"color":{"field":"g","legend":null}}},
{"data":{"values":[{}]},"mark":{"type":"rule","yOffset":-3},"encoding":{"x":{"datum":0},"x2":{"datum":1},"y":{"datum":6}}},
{"data":{"values":[{}]},"mark":{"type":"tick","orient":"vertical","size":5,"yOffset":-3},"encoding":{"x":{"datum":0},"y":{"datum":6}}},
{"data":{"values":[{}]},"mark":{"type":"tick","orient":"vertical","size":5,"yOffset":-3},"encoding":{"x":{"datum":1},"y":{"datum":6}}},
{"data":{"values":[{}]},"mark":{"type":"text","align":"right","baseline":"alphabetic","dx":-9,"dy":-6,"fontStyle":"italic"},"encoding":{"x":{"datum":0.5},"y":{"datum":6},"text":{"value":"P"}}},
{"data":{"values":[{}]},"mark":{"type":"text","align":"left","baseline":"alphabetic","dx":-9,"dy":-6},"encoding":{"x":{"datum":0.5},"y":{"datum":6},"text":{"value":"<0.001"}}}
]},
{"title":"D","width":92,"height":85,"layer":[
{"data":{"name":"pts"},"transform":[{"filter":"datum.p=='D'"},{"calculate":"floor((datum.v+5)*4)","as":"b"},{"window":[{"op":"row_number","as":"r"}],"groupby":["g","b"]},{"joinaggregate":[{"op":"count","as":"n"}],"groupby":["g","b"]},{"calculate":"(datum.g=='P'?0:1)+(datum.r-(datum.n+1)/2)*0.075","as":"x"}],"mark":"circle","encoding":{"x":{"field":"x","type":"quantitative","scale":{"domain":[-0.66,1.54]},"axis":{"values":[0,1],"labelExpr":"datum.value==0?'PGNMID':'Normal'","title":null}},"y":{"field":"v","type":"quantitative","scale":{"domain":[-5,2]},"axis":{"values":[-4,-2,0,2],"tickCount":20,"format":"d","title":["log(urinary C4d/Cr)","(μg/mg)"]}},"color":{"field":"g","legend":null}}},
{"data":{"name":"st"},"transform":[{"filter":"datum.p=='D'"},{"calculate":"datum.g=='P'?0:1","as":"x"}],"mark":"rule","encoding":{"x":{"field":"x","type":"quantitative"},"y":{"field":"q1","type":"quantitative"},"y2":{"field":"q3"},"color":{"field":"g","legend":null}}},
{"data":{"name":"st"},"transform":[{"filter":"datum.p=='D'"},{"calculate":"datum.g=='P'?0:1","as":"x"}],"mark":{"type":"tick","orient":"horizontal","size":30},"encoding":{"x":{"field":"x","type":"quantitative"},"y":{"field":"med","type":"quantitative"},"color":{"field":"g","legend":null}}},
{"data":{"name":"st"},"transform":[{"filter":"datum.p=='D'"},{"calculate":"datum.g=='P'?0:1","as":"x"},{"fold":["q1","q3"]}],"mark":{"type":"tick","orient":"horizontal","size":16},"encoding":{"x":{"field":"x","type":"quantitative"},"y":{"field":"value","type":"quantitative"},"color":{"field":"g","legend":null}}},
{"data":{"values":[{}]},"mark":{"type":"rule","yOffset":-3},"encoding":{"x":{"datum":0},"x2":{"datum":1},"y":{"datum":2}}},
{"data":{"values":[{}]},"mark":{"type":"tick","orient":"vertical","size":5,"yOffset":-3},"encoding":{"x":{"datum":0},"y":{"datum":2}}},
{"data":{"values":[{}]},"mark":{"type":"tick","orient":"vertical","size":5,"yOffset":-3},"encoding":{"x":{"datum":1},"y":{"datum":2}}},
{"data":{"values":[{}]},"mark":{"type":"text","align":"right","baseline":"alphabetic","dx":-9,"dy":-6,"fontStyle":"italic"},"encoding":{"x":{"datum":0.5},"y":{"datum":2},"text":{"value":"P"}}},
{"data":{"values":[{}]},"mark":{"type":"text","align":"left","baseline":"alphabetic","dx":-9,"dy":-6},"encoding":{"x":{"datum":0.5},"y":{"datum":2},"text":{"value":"<0.001"}}}
]},
{"title":"E","width":92,"height":85,"layer":[
{"data":{"name":"pts"},"transform":[{"filter":"datum.p=='E'"},{"calculate":"floor((datum.v+3)*5.6)","as":"b"},{"window":[{"op":"row_number","as":"r"}],"groupby":["g","b"]},{"joinaggregate":[{"op":"count","as":"n"}],"groupby":["g","b"]},{"calculate":"(datum.g=='P'?0:1)+(datum.r-(datum.n+1)/2)*0.075","as":"x"}],"mark":"circle","encoding":{"x":{"field":"x","type":"quantitative","scale":{"domain":[-0.66,1.54]},"axis":{"values":[0,1],"labelExpr":"datum.value==0?'PGNMID':'Normal'","title":null}},"y":{"field":"v","type":"quantitative","scale":{"domain":[-3,2]},"axis":{"values":[-3,-2,-1,0,1,2],"tickCount":20,"format":"d","title":["log(urinary C1q/Cr)","(ng/mg)"]}},"color":{"field":"g","legend":null}}},
{"data":{"name":"st"},"transform":[{"filter":"datum.p=='E'"},{"calculate":"datum.g=='P'?0:1","as":"x"}],"mark":"rule","encoding":{"x":{"field":"x","type":"quantitative"},"y":{"field":"q1","type":"quantitative"},"y2":{"field":"q3"},"color":{"field":"g","legend":null}}},
{"data":{"name":"st"},"transform":[{"filter":"datum.p=='E'"},{"calculate":"datum.g=='P'?0:1","as":"x"}],"mark":{"type":"tick","orient":"horizontal","size":30},"encoding":{"x":{"field":"x","type":"quantitative"},"y":{"field":"med","type":"quantitative"},"color":{"field":"g","legend":null}}},
{"data":{"name":"st"},"transform":[{"filter":"datum.p=='E'"},{"calculate":"datum.g=='P'?0:1","as":"x"},{"fold":["q1","q3"]}],"mark":{"type":"tick","orient":"horizontal","size":16},"encoding":{"x":{"field":"x","type":"quantitative"},"y":{"field":"value","type":"quantitative"},"color":{"field":"g","legend":null}}},
{"data":{"values":[{}]},"mark":{"type":"rule","yOffset":-3},"encoding":{"x":{"datum":0},"x2":{"datum":1},"y":{"datum":2}}},
{"data":{"values":[{}]},"mark":{"type":"tick","orient":"vertical","size":5,"yOffset":-3},"encoding":{"x":{"datum":0},"y":{"datum":2}}},
{"data":{"values":[{}]},"mark":{"type":"tick","orient":"vertical","size":5,"yOffset":-3},"encoding":{"x":{"datum":1},"y":{"datum":2}}},
{"data":{"values":[{}]},"mark":{"type":"text","align":"right","baseline":"alphabetic","dx":-9,"dy":-6,"fontStyle":"italic"},"encoding":{"x":{"datum":0.5},"y":{"datum":2},"text":{"value":"P"}}},
{"data":{"values":[{}]},"mark":{"type":"text","align":"left","baseline":"alphabetic","dx":-9,"dy":-6},"encoding":{"x":{"datum":0.5},"y":{"datum":2},"text":{"value":"<0.001"}}}
]},
{"title":"F","width":92,"height":85,"layer":[
{"data":{"name":"pts"},"transform":[{"filter":"datum.p=='F'"},{"calculate":"floor((datum.v+2)*5.6)","as":"b"},{"window":[{"op":"row_number","as":"r"}],"groupby":["g","b"]},{"joinaggregate":[{"op":"count","as":"n"}],"groupby":["g","b"]},{"calculate":"(datum.g=='P'?0:1)+(datum.r-(datum.n+1)/2)*0.075","as":"x"}],"mark":"circle","encoding":{"x":{"field":"x","type":"quantitative","scale":{"domain":[-0.66,1.54]},"axis":{"values":[0,1],"labelExpr":"datum.value==0?'PGNMID':'Normal'","title":null}},"y":{"field":"v","type":"quantitative","scale":{"domain":[-2,3]},"axis":{"values":[-2,-1,0,1,2,3],"tickCount":20,"format":"d","title":["log(urinary MBL/Cr)","(ng/mg)"]}},"color":{"field":"g","legend":null}}},
{"data":{"name":"st"},"transform":[{"filter":"datum.p=='F'"},{"calculate":"datum.g=='P'?0:1","as":"x"}],"mark":"rule","encoding":{"x":{"field":"x","type":"quantitative"},"y":{"field":"q1","type":"quantitative"},"y2":{"field":"q3"},"color":{"field":"g","legend":null}}},
{"data":{"name":"st"},"transform":[{"filter":"datum.p=='F'"},{"calculate":"datum.g=='P'?0:1","as":"x"}],"mark":{"type":"tick","orient":"horizontal","size":30},"encoding":{"x":{"field":"x","type":"quantitative"},"y":{"field":"med","type":"quantitative"},"color":{"field":"g","legend":null}}},
{"data":{"name":"st"},"transform":[{"filter":"datum.p=='F'"},{"calculate":"datum.g=='P'?0:1","as":"x"},{"fold":["q1","q3"]}],"mark":{"type":"tick","orient":"horizontal","size":16},"encoding":{"x":{"field":"x","type":"quantitative"},"y":{"field":"value","type":"quantitative"},"color":{"field":"g","legend":null}}},
{"data":{"values":[{}]},"mark":{"type":"rule","yOffset":-3},"encoding":{"x":{"datum":0},"x2":{"datum":1},"y":{"datum":3}}},
{"data":{"values":[{}]},"mark":{"type":"tick","orient":"vertical","size":5,"yOffset":-3},"encoding":{"x":{"datum":0},"y":{"datum":3}}},
{"data":{"values":[{}]},"mark":{"type":"tick","orient":"vertical","size":5,"yOffset":-3},"encoding":{"x":{"datum":1},"y":{"datum":3}}},
{"data":{"values":[{}]},"mark":{"type":"text","align":"right","baseline":"alphabetic","dx":-9,"dy":-6,"fontStyle":"italic"},"encoding":{"x":{"datum":0.5},"y":{"datum":3},"text":{"value":"P"}}},
{"data":{"values":[{}]},"mark":{"type":"text","align":"left","baseline":"alphabetic","dx":-9,"dy":-6},"encoding":{"x":{"datum":0.5},"y":{"datum":3},"text":{"value":"<0.001"}}}
]},
{"title":"G","width":92,"height":85,"layer":[
{"data":{"name":"pts"},"transform":[{"filter":"datum.p=='G'"},{"calculate":"floor((datum.v+3)*5.6)","as":"b"},{"window":[{"op":"row_number","as":"r"}],"groupby":["g","b"]},{"joinaggregate":[{"op":"count","as":"n"}],"groupby":["g","b"]},{"calculate":"(datum.g=='P'?0:1)+(datum.r-(datum.n+1)/2)*0.075","as":"x"}],"mark":"circle","encoding":{"x":{"field":"x","type":"quantitative","scale":{"domain":[-0.66,1.54]},"axis":{"values":[0,1],"labelExpr":"datum.value==0?'PGNMID':'Normal'","title":null}},"y":{"field":"v","type":"quantitative","scale":{"domain":[-3,2]},"axis":{"values":[-3,-2,-1,0,1,2],"tickCount":20,"format":"d","title":["log(urinary Bb/Cr)","(μg/mg)"]}},"color":{"field":"g","legend":null}}},
{"data":{"name":"st"},"transform":[{"filter":"datum.p=='G'"},{"calculate":"datum.g=='P'?0:1","as":"x"}],"mark":"rule","encoding":{"x":{"field":"x","type":"quantitative"},"y":{"field":"q1","type":"quantitative"},"y2":{"field":"q3"},"color":{"field":"g","legend":null}}},
{"data":{"name":"st"},"transform":[{"filter":"datum.p=='G'"},{"calculate":"datum.g=='P'?0:1","as":"x"}],"mark":{"type":"tick","orient":"horizontal","size":30},"encoding":{"x":{"field":"x","type":"quantitative"},"y":{"field":"med","type":"quantitative"},"color":{"field":"g","legend":null}}},
{"data":{"name":"st"},"transform":[{"filter":"datum.p=='G'"},{"calculate":"datum.g=='P'?0:1","as":"x"},{"fold":["q1","q3"]}],"mark":{"type":"tick","orient":"horizontal","size":16},"encoding":{"x":{"field":"x","type":"quantitative"},"y":{"field":"value","type":"quantitative"},"color":{"field":"g","legend":null}}},
{"data":{"values":[{}]},"mark":{"type":"rule","yOffset":-3},"encoding":{"x":{"datum":0},"x2":{"datum":1},"y":{"datum":2}}},
{"data":{"values":[{}]},"mark":{"type":"tick","orient":"vertical","size":5,"yOffset":-3},"encoding":{"x":{"datum":0},"y":{"datum":2}}},
{"data":{"values":[{}]},"mark":{"type":"tick","orient":"vertical","size":5,"yOffset":-3},"encoding":{"x":{"datum":1},"y":{"datum":2}}},
{"data":{"values":[{}]},"mark":{"type":"text","align":"right","baseline":"alphabetic","dx":-9,"dy":-6,"fontStyle":"italic"},"encoding":{"x":{"datum":0.5},"y":{"datum":2},"text":{"value":"P"}}},
{"data":{"values":[{}]},"mark":{"type":"text","align":"left","baseline":"alphabetic","dx":-9,"dy":-6},"encoding":{"x":{"datum":0.5},"y":{"datum":2},"text":{"value":"<0.001"}}}
]},
{"title":"H","width":92,"height":85,"layer":[
{"data":{"name":"pts"},"transform":[{"filter":"datum.p=='H'"},{"calculate":"datum.g=='P'?floor(datum.v/800):floor(datum.v/100)","as":"b"},{"window":[{"op":"row_number","as":"r"}],"groupby":["g","b"]},{"joinaggregate":[{"op":"count","as":"n"}],"groupby":["g","b"]},{"calculate":"(datum.g=='P'?0:1)+(datum.r-(datum.n+1)/2)*0.075","as":"x"}],"mark":"circle","encoding":{"x":{"field":"x","type":"quantitative","scale":{"domain":[-0.66,1.54]},"axis":{"values":[0,1],"labelExpr":"datum.value==0?'PGNMID':'Normal'","title":null}},"y":{"field":"v","type":"quantitative","scale":{"domain":[0,30000]},"axis":{"values":[0,10000,20000,30000],"tickCount":20,"format":"d","title":"Plasma C3a (ng/ml)"}},"color":{"field":"g","legend":null}}},
{"data":{"name":"st"},"transform":[{"filter":"datum.p=='H'"},{"calculate":"datum.g=='P'?0:1","as":"x"}],"mark":"rule","encoding":{"x":{"field":"x","type":"quantitative"},"y":{"field":"q1","type":"quantitative"},"y2":{"field":"q3"},"color":{"field":"g","legend":null}}},
{"data":{"name":"st"},"transform":[{"filter":"datum.p=='H'"},{"calculate":"datum.g=='P'?0:1","as":"x"}],"mark":{"type":"tick","orient":"horizontal","size":30},"encoding":{"x":{"field":"x","type":"quantitative"},"y":{"field":"med","type":"quantitative"},"color":{"field":"g","legend":null}}},
{"data":{"name":"st"},"transform":[{"filter":"datum.p=='H'"},{"calculate":"datum.g=='P'?0:1","as":"x"},{"fold":["q1","q3"]}],"mark":{"type":"tick","orient":"horizontal","size":16},"encoding":{"x":{"field":"x","type":"quantitative"},"y":{"field":"value","type":"quantitative"},"color":{"field":"g","legend":null}}},
{"data":{"values":[{}]},"mark":{"type":"rule","yOffset":-3},"encoding":{"x":{"datum":0},"x2":{"datum":1},"y":{"datum":30000}}},
{"data":{"values":[{}]},"mark":{"type":"tick","orient":"vertical","size":5,"yOffset":-3},"encoding":{"x":{"datum":0},"y":{"datum":30000}}},
{"data":{"values":[{}]},"mark":{"type":"tick","orient":"vertical","size":5,"yOffset":-3},"encoding":{"x":{"datum":1},"y":{"datum":30000}}},
{"data":{"values":[{}]},"mark":{"type":"text","align":"right","baseline":"alphabetic","dx":-9,"dy":-6,"fontStyle":"italic"},"encoding":{"x":{"datum":0.5},"y":{"datum":30000},"text":{"value":"P"}}},
{"data":{"values":[{}]},"mark":{"type":"text","align":"left","baseline":"alphabetic","dx":-9,"dy":-6},"encoding":{"x":{"datum":0.5},"y":{"datum":30000},"text":{"value":"<0.001"}}}
]},
{"title":"I","width":92,"height":85,"layer":[
{"data":{"name":"pts"},"transform":[{"filter":"datum.p=='I'"},{"calculate":"floor(datum.v/40)","as":"b"},{"window":[{"op":"row_number","as":"r"}],"groupby":["g","b"]},{"joinaggregate":[{"op":"count","as":"n"}],"groupby":["g","b"]},{"calculate":"(datum.g=='P'?0:1)+(datum.r-(datum.n+1)/2)*0.075","as":"x"}],"mark":"circle","encoding":{"x":{"field":"x","type":"quantitative","scale":{"domain":[-0.66,1.54]},"axis":{"values":[0,1],"labelExpr":"datum.value==0?'PGNMID':'Normal'","title":null}},"y":{"field":"v","type":"quantitative","scale":{"domain":[0,6000]},"axis":{"values":[0,2000,4000,6000],"tickCount":20,"format":"d","title":"Plasma C5a (ng/ml)"}},"color":{"field":"g","legend":null}}},
{"data":{"name":"st"},"transform":[{"filter":"datum.p=='I'"},{"calculate":"datum.g=='P'?0:1","as":"x"}],"mark":"rule","encoding":{"x":{"field":"x","type":"quantitative"},"y":{"field":"q1","type":"quantitative"},"y2":{"field":"q3"},"color":{"field":"g","legend":null}}},
{"data":{"name":"st"},"transform":[{"filter":"datum.p=='I'"},{"calculate":"datum.g=='P'?0:1","as":"x"}],"mark":{"type":"tick","orient":"horizontal","size":30},"encoding":{"x":{"field":"x","type":"quantitative"},"y":{"field":"med","type":"quantitative"},"color":{"field":"g","legend":null}}},
{"data":{"name":"st"},"transform":[{"filter":"datum.p=='I'"},{"calculate":"datum.g=='P'?0:1","as":"x"},{"fold":["q1","q3"]}],"mark":{"type":"tick","orient":"horizontal","size":16},"encoding":{"x":{"field":"x","type":"quantitative"},"y":{"field":"value","type":"quantitative"},"color":{"field":"g","legend":null}}},
{"data":{"values":[{}]},"mark":{"type":"rule","yOffset":-3},"encoding":{"x":{"datum":0},"x2":{"datum":1},"y":{"datum":6000}}},
{"data":{"values":[{}]},"mark":{"type":"tick","orient":"vertical","size":5,"yOffset":-3},"encoding":{"x":{"datum":0},"y":{"datum":6000}}},
{"data":{"values":[{}]},"mark":{"type":"tick","orient":"vertical","size":5,"yOffset":-3},"encoding":{"x":{"datum":1},"y":{"datum":6000}}},
{"data":{"values":[{}]},"mark":{"type":"text","align":"right","baseline":"alphabetic","dx":-9,"dy":-6,"fontStyle":"italic"},"encoding":{"x":{"datum":0.5},"y":{"datum":6000},"text":{"value":"P"}}},
{"data":{"values":[{}]},"mark":{"type":"text","align":"left","baseline":"alphabetic","dx":-9,"dy":-6},"encoding":{"x":{"datum":0.5},"y":{"datum":6000},"text":{"value":"<0.001"}}}
]},
{"title":"J","width":92,"height":85,"layer":[
{"data":{"name":"pts"},"transform":[{"filter":"datum.p=='J'"},{"calculate":"floor(datum.v/53.6)","as":"b"},{"window":[{"op":"row_number","as":"r"}],"groupby":["g","b"]},{"joinaggregate":[{"op":"count","as":"n"}],"groupby":["g","b"]},{"calculate":"(datum.g=='P'?0:1)+(datum.r-(datum.n+1)/2)*0.075","as":"x"}],"mark":"circle","encoding":{"x":{"field":"x","type":"quantitative","scale":{"domain":[-0.66,1.54]},"axis":{"values":[0,1],"labelExpr":"datum.value==0?'PGNMID':'Normal'","title":null}},"y":{"field":"v","type":"quantitative","scale":{"domain":[0,1500]},"axis":{"values":[0,500,1000,1500],"tickCount":20,"format":"d","title":"Plasma sC5b-9 (ng/ml)"}},"color":{"field":"g","legend":null}}},
{"data":{"name":"st"},"transform":[{"filter":"datum.p=='J'"},{"calculate":"datum.g=='P'?0:1","as":"x"}],"mark":"rule","encoding":{"x":{"field":"x","type":"quantitative"},"y":{"field":"q1","type":"quantitative"},"y2":{"field":"q3"},"color":{"field":"g","legend":null}}},
{"data":{"name":"st"},"transform":[{"filter":"datum.p=='J'"},{"calculate":"datum.g=='P'?0:1","as":"x"}],"mark":{"type":"tick","orient":"horizontal","size":30},"encoding":{"x":{"field":"x","type":"quantitative"},"y":{"field":"med","type":"quantitative"},"color":{"field":"g","legend":null}}},
{"data":{"name":"st"},"transform":[{"filter":"datum.p=='J'"},{"calculate":"datum.g=='P'?0:1","as":"x"},{"fold":["q1","q3"]}],"mark":{"type":"tick","orient":"horizontal","size":16},"encoding":{"x":{"field":"x","type":"quantitative"},"y":{"field":"value","type":"quantitative"},"color":{"field":"g","legend":null}}},
{"data":{"values":[{}]},"mark":{"type":"rule","yOffset":-3},"encoding":{"x":{"datum":0},"x2":{"datum":1},"y":{"datum":1500}}},
{"data":{"values":[{}]},"mark":{"type":"tick","orient":"vertical","size":5,"yOffset":-3},"encoding":{"x":{"datum":0},"y":{"datum":1500}}},
{"data":{"values":[{}]},"mark":{"type":"tick","orient":"vertical","size":5,"yOffset":-3},"encoding":{"x":{"datum":1},"y":{"datum":1500}}},
{"data":{"values":[{}]},"mark":{"type":"text","align":"right","baseline":"alphabetic","dx":-9,"dy":-6,"fontStyle":"italic"},"encoding":{"x":{"datum":0.5},"y":{"datum":1500},"text":{"value":"P"}}},
{"data":{"values":[{}]},"mark":{"type":"text","align":"left","baseline":"alphabetic","dx":-9,"dy":-6},"encoding":{"x":{"datum":0.5},"y":{"datum":1500},"text":{"value":"<0.001"}}}
]},
{"title":"K","width":92,"height":85,"layer":[
{"data":{"name":"pts"},"transform":[{"filter":"datum.p=='K'"},{"calculate":"floor(datum.v/0.893)","as":"b"},{"window":[{"op":"row_number","as":"r"}],"groupby":["g","b"]},{"joinaggregate":[{"op":"count","as":"n"}],"groupby":["g","b"]},{"calculate":"(datum.g=='P'?0:1)+(datum.r-(datum.n+1)/2)*0.075","as":"x"}],"mark":"circle","encoding":{"x":{"field":"x","type":"quantitative","scale":{"domain":[-0.66,1.54]},"axis":{"values":[0,1],"labelExpr":"datum.value==0?'PGNMID':'Normal'","title":null}},"y":{"field":"v","type":"quantitative","scale":{"domain":[0,25]},"axis":{"values":[0,5,10,15,20,25],"tickCount":20,"format":"d","title":"Plasma C4d (μg/ml)"}},"color":{"field":"g","legend":null}}},
{"data":{"name":"st"},"transform":[{"filter":"datum.p=='K'"},{"calculate":"datum.g=='P'?0:1","as":"x"}],"mark":"rule","encoding":{"x":{"field":"x","type":"quantitative"},"y":{"field":"q1","type":"quantitative"},"y2":{"field":"q3"},"color":{"field":"g","legend":null}}},
{"data":{"name":"st"},"transform":[{"filter":"datum.p=='K'"},{"calculate":"datum.g=='P'?0:1","as":"x"}],"mark":{"type":"tick","orient":"horizontal","size":30},"encoding":{"x":{"field":"x","type":"quantitative"},"y":{"field":"med","type":"quantitative"},"color":{"field":"g","legend":null}}},
{"data":{"name":"st"},"transform":[{"filter":"datum.p=='K'"},{"calculate":"datum.g=='P'?0:1","as":"x"},{"fold":["q1","q3"]}],"mark":{"type":"tick","orient":"horizontal","size":16},"encoding":{"x":{"field":"x","type":"quantitative"},"y":{"field":"value","type":"quantitative"},"color":{"field":"g","legend":null}}},
{"data":{"values":[{}]},"mark":{"type":"rule","yOffset":-3},"encoding":{"x":{"datum":0},"x2":{"datum":1},"y":{"datum":25}}},
{"data":{"values":[{}]},"mark":{"type":"tick","orient":"vertical","size":5,"yOffset":-3},"encoding":{"x":{"datum":0},"y":{"datum":25}}},
{"data":{"values":[{}]},"mark":{"type":"tick","orient":"vertical","size":5,"yOffset":-3},"encoding":{"x":{"datum":1},"y":{"datum":25}}},
{"data":{"values":[{}]},"mark":{"type":"text","align":"right","baseline":"alphabetic","dx":-9,"dy":-6,"fontStyle":"italic"},"encoding":{"x":{"datum":0.5},"y":{"datum":25},"text":{"value":"P"}}},
{"data":{"values":[{}]},"mark":{"type":"text","align":"left","baseline":"alphabetic","dx":-9,"dy":-6},"encoding":{"x":{"datum":0.5},"y":{"datum":25},"text":{"value":"<0.001"}}}
]},
{"title":"L","width":92,"height":85,"layer":[
{"data":{"name":"pts"},"transform":[{"filter":"datum.p=='L'"},{"calculate":"floor(datum.v/893)","as":"b"},{"window":[{"op":"row_number","as":"r"}],"groupby":["g","b"]},{"joinaggregate":[{"op":"count","as":"n"}],"groupby":["g","b"]},{"calculate":"(datum.g=='P'?0:1)+(datum.r-(datum.n+1)/2)*0.075","as":"x"}],"mark":"circle","encoding":{"x":{"field":"x","type":"quantitative","scale":{"domain":[-0.66,1.54]},"axis":{"values":[0,1],"labelExpr":"datum.value==0?'PGNMID':'Normal'","title":null}},"y":{"field":"v","type":"quantitative","scale":{"domain":[0,25000]},"axis":{"values":[0,5000,10000,15000,20000,25000],"tickCount":20,"format":"d","title":"Plasma C1q (ng/ml)"}},"color":{"field":"g","legend":null}}},
{"data":{"name":"st"},"transform":[{"filter":"datum.p=='L'"},{"calculate":"datum.g=='P'?0:1","as":"x"}],"mark":"rule","encoding":{"x":{"field":"x","type":"quantitative"},"y":{"field":"q1","type":"quantitative"},"y2":{"field":"q3"},"color":{"field":"g","legend":null}}},
{"data":{"name":"st"},"transform":[{"filter":"datum.p=='L'"},{"calculate":"datum.g=='P'?0:1","as":"x"}],"mark":{"type":"tick","orient":"horizontal","size":30},"encoding":{"x":{"field":"x","type":"quantitative"},"y":{"field":"med","type":"quantitative"},"color":{"field":"g","legend":null}}},
{"data":{"name":"st"},"transform":[{"filter":"datum.p=='L'"},{"calculate":"datum.g=='P'?0:1","as":"x"},{"fold":["q1","q3"]}],"mark":{"type":"tick","orient":"horizontal","size":16},"encoding":{"x":{"field":"x","type":"quantitative"},"y":{"field":"value","type":"quantitative"},"color":{"field":"g","legend":null}}},
{"data":{"values":[{}]},"mark":{"type":"rule","yOffset":-3},"encoding":{"x":{"datum":0},"x2":{"datum":1},"y":{"datum":25000}}},
{"data":{"values":[{}]},"mark":{"type":"tick","orient":"vertical","size":5,"yOffset":-3},"encoding":{"x":{"datum":0},"y":{"datum":25000}}},
{"data":{"values":[{}]},"mark":{"type":"tick","orient":"vertical","size":5,"yOffset":-3},"encoding":{"x":{"datum":1},"y":{"datum":25000}}},
{"data":{"values":[{}]},"mark":{"type":"text","align":"right","baseline":"alphabetic","dx":-9,"dy":-6,"fontStyle":"italic"},"encoding":{"x":{"datum":0.5},"y":{"datum":25000},"text":{"value":"P"}}},
{"data":{"values":[{}]},"mark":{"type":"text","align":"left","baseline":"alphabetic","dx":-9,"dy":-6},"encoding":{"x":{"datum":0.5},"y":{"datum":25000},"text":{"value":"<0.001"}}}
]},
{"title":"M","width":92,"height":85,"layer":[
{"data":{"name":"pts"},"transform":[{"filter":"datum.p=='M'"},{"calculate":"floor(datum.v/286)","as":"b"},{"window":[{"op":"row_number","as":"r"}],"groupby":["g","b"]},{"joinaggregate":[{"op":"count","as":"n"}],"groupby":["g","b"]},{"calculate":"(datum.g=='P'?0:1)+(datum.r-(datum.n+1)/2)*0.075","as":"x"}],"mark":"circle","encoding":{"x":{"field":"x","type":"quantitative","scale":{"domain":[-0.66,1.54]},"axis":{"values":[0,1],"labelExpr":"datum.value==0?'PGNMID':'Normal'","title":null}},"y":{"field":"v","type":"quantitative","scale":{"domain":[0,8000]},"axis":{"values":[0,2000,4000,6000,8000],"tickCount":20,"format":"d","title":"Plasma MBL (ng/ml)"}},"color":{"field":"g","legend":null}}},
{"data":{"name":"st"},"transform":[{"filter":"datum.p=='M'"},{"calculate":"datum.g=='P'?0:1","as":"x"}],"mark":"rule","encoding":{"x":{"field":"x","type":"quantitative"},"y":{"field":"q1","type":"quantitative"},"y2":{"field":"q3"},"color":{"field":"g","legend":null}}},
{"data":{"name":"st"},"transform":[{"filter":"datum.p=='M'"},{"calculate":"datum.g=='P'?0:1","as":"x"}],"mark":{"type":"tick","orient":"horizontal","size":30},"encoding":{"x":{"field":"x","type":"quantitative"},"y":{"field":"med","type":"quantitative"},"color":{"field":"g","legend":null}}},
{"data":{"name":"st"},"transform":[{"filter":"datum.p=='M'"},{"calculate":"datum.g=='P'?0:1","as":"x"},{"fold":["q1","q3"]}],"mark":{"type":"tick","orient":"horizontal","size":16},"encoding":{"x":{"field":"x","type":"quantitative"},"y":{"field":"value","type":"quantitative"},"color":{"field":"g","legend":null}}},
{"data":{"values":[{}]},"mark":{"type":"rule","yOffset":-3},"encoding":{"x":{"datum":0},"x2":{"datum":1},"y":{"datum":8000}}},
{"data":{"values":[{}]},"mark":{"type":"tick","orient":"vertical","size":5,"yOffset":-3},"encoding":{"x":{"datum":0},"y":{"datum":8000}}},
{"data":{"values":[{}]},"mark":{"type":"tick","orient":"vertical","size":5,"yOffset":-3},"encoding":{"x":{"datum":1},"y":{"datum":8000}}},
{"data":{"values":[{}]},"mark":{"type":"text","align":"right","baseline":"alphabetic","dx":-9,"dy":-6,"fontStyle":"italic"},"encoding":{"x":{"datum":0.5},"y":{"datum":8000},"text":{"value":"P"}}},
{"data":{"values":[{}]},"mark":{"type":"text","align":"left","baseline":"alphabetic","dx":-9,"dy":-6},"encoding":{"x":{"datum":0.5},"y":{"datum":8000},"text":{"value":"=0.226"}}}
]},
{"title":"N","width":92,"height":85,"layer":[
{"data":{"name":"pts"},"transform":[{"filter":"datum.p=='N'"},{"calculate":"floor(datum.v*7)","as":"b"},{"window":[{"op":"row_number","as":"r"}],"groupby":["g","b"]},{"joinaggregate":[{"op":"count","as":"n"}],"groupby":["g","b"]},{"calculate":"(datum.g=='P'?0:1)+(datum.r-(datum.n+1)/2)*0.075","as":"x"}],"mark":"circle","encoding":{"x":{"field":"x","type":"quantitative","scale":{"domain":[-0.66,1.54]},"axis":{"values":[0,1],"labelExpr":"datum.value==0?'PGNMID':'Normal'","title":null}},"y":{"field":"v","type":"quantitative","scale":{"domain":[0,4]},"axis":{"values":[0,1,2,3,4],"tickCount":20,"format":"d","title":"Plasma Bb (μg/ml)"}},"color":{"field":"g","legend":null}}},
{"data":{"name":"st"},"transform":[{"filter":"datum.p=='N'"},{"calculate":"datum.g=='P'?0:1","as":"x"}],"mark":"rule","encoding":{"x":{"field":"x","type":"quantitative"},"y":{"field":"q1","type":"quantitative"},"y2":{"field":"q3"},"color":{"field":"g","legend":null}}},
{"data":{"name":"st"},"transform":[{"filter":"datum.p=='N'"},{"calculate":"datum.g=='P'?0:1","as":"x"}],"mark":{"type":"tick","orient":"horizontal","size":30},"encoding":{"x":{"field":"x","type":"quantitative"},"y":{"field":"med","type":"quantitative"},"color":{"field":"g","legend":null}}},
{"data":{"name":"st"},"transform":[{"filter":"datum.p=='N'"},{"calculate":"datum.g=='P'?0:1","as":"x"},{"fold":["q1","q3"]}],"mark":{"type":"tick","orient":"horizontal","size":16},"encoding":{"x":{"field":"x","type":"quantitative"},"y":{"field":"value","type":"quantitative"},"color":{"field":"g","legend":null}}},
{"data":{"values":[{}]},"mark":{"type":"rule","yOffset":-3},"encoding":{"x":{"datum":0},"x2":{"datum":1},"y":{"datum":4}}},
{"data":{"values":[{}]},"mark":{"type":"tick","orient":"vertical","size":5,"yOffset":-3},"encoding":{"x":{"datum":0},"y":{"datum":4}}},
{"data":{"values":[{}]},"mark":{"type":"tick","orient":"vertical","size":5,"yOffset":-3},"encoding":{"x":{"datum":1},"y":{"datum":4}}},
{"data":{"values":[{}]},"mark":{"type":"text","align":"right","baseline":"alphabetic","dx":-9,"dy":-6,"fontStyle":"italic"},"encoding":{"x":{"datum":0.5},"y":{"datum":4},"text":{"value":"P"}}},
{"data":{"values":[{}]},"mark":{"type":"text","align":"left","baseline":"alphabetic","dx":-9,"dy":-6},"encoding":{"x":{"datum":0.5},"y":{"datum":4},"text":{"value":"<0.001"}}}
]}
],
"config":{
"font":"Liberation Sans",
"view":{"stroke":null},
"locale":{"number":{"decimal":".","thousands":"","grouping":[3],"currency":["$",""],"minus":"-"}},
"range":{"category":["#b3203c","#22448c"]},
"axis":{"labelFontSize":8.5,"titleFontSize":8.5,"titleFontWeight":"normal","labelColor":"#000","titleColor":"#000","domainColor":"#000","tickColor":"#000","grid":false,"tickSize":4,"labelPadding":2,"titlePadding":5,"titleLineHeight":10,"labelFont":"Liberation Sans","titleFont":"Liberation Sans","labelOverlap":false},
"title":{"anchor":"start","frame":"bounds","fontSize":13,"fontWeight":"bold","font":"Liberation Sans","offset":-1,"color":"#000"},
"circle":{"size":7,"opacity":1},
"tick":{"thickness":1.2,"color":"#000"},
"rule":{"color":"#000","strokeWidth":1},
"text":{"fontSize":8.5,"color":"#000","font":"Liberation Sans"}
}
}
